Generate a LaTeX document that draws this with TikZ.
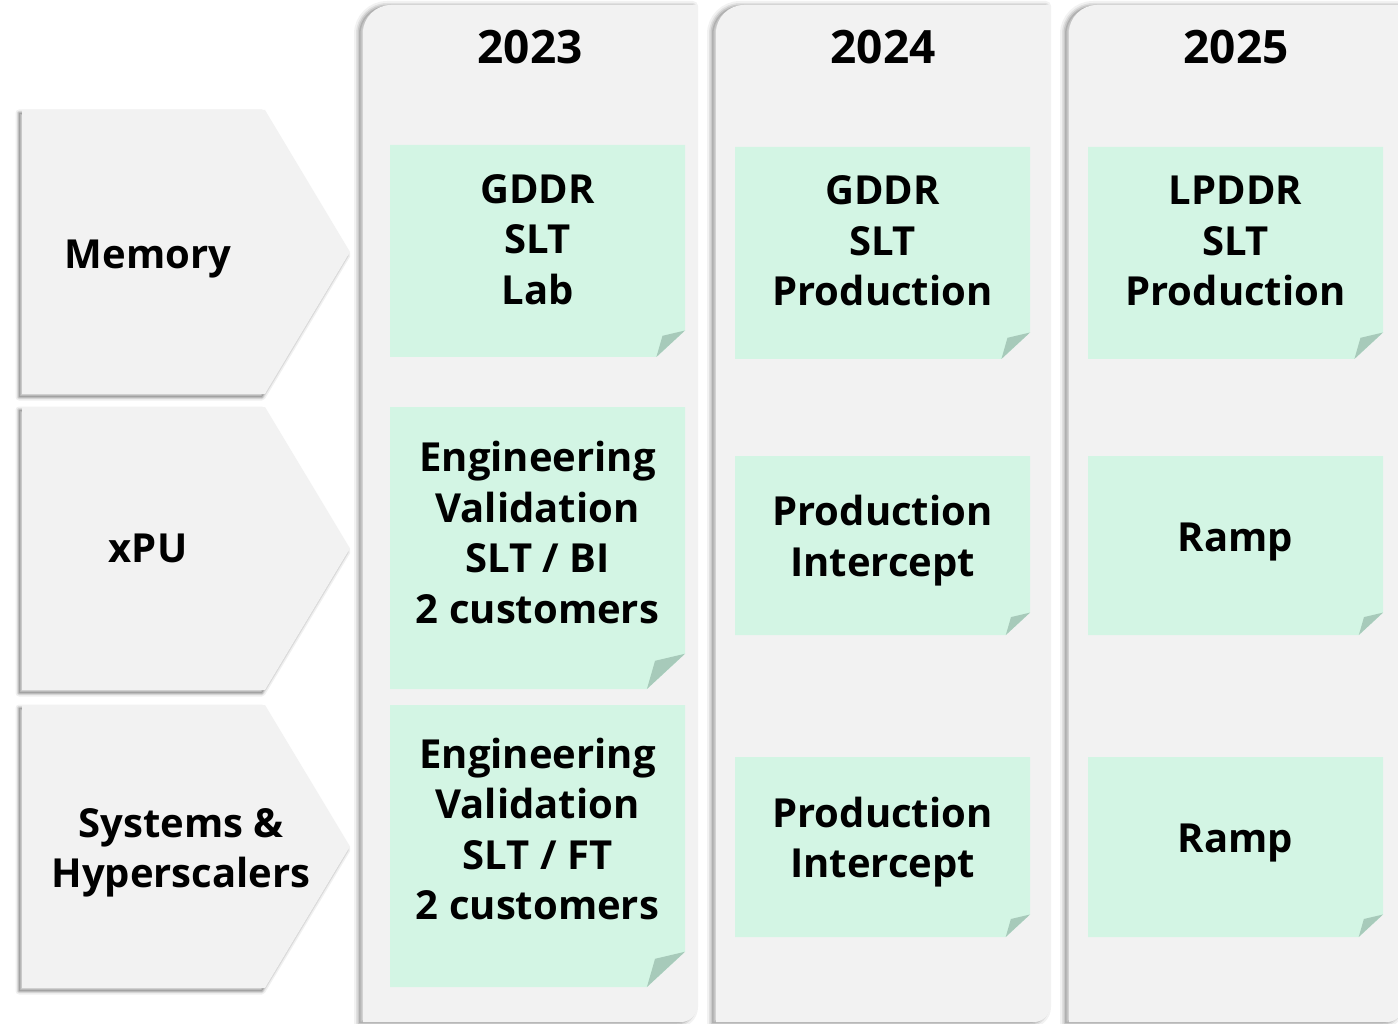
\documentclass[tikz,border=0pt]{standalone}
\usepackage{fontspec}
\setmainfont{Open Sans}
\definecolor{panel}{HTML}{F2F2F2}
\definecolor{notefill}{HTML}{D3F5E4}
\definecolor{foldfill}{HTML}{A7CABA}
\tikzset{
  year/.style={font=\fontsize{46}{50}\selectfont\bfseries, inner sep=0pt},
  notetext/.style={font=\fontsize{40}{50.5}\selectfont\bfseries, align=center, inner sep=0pt},
  rowlabel/.style={font=\fontsize{40}{50.5}\selectfont\bfseries, align=center, inner sep=0pt},
  softshadow/.style={black, line join=round},
}
\newcommand\colpath[2]{(#1,1022) -- (#1,33) arc[start angle=180,end angle=270,radius=28]
    -- (#2,5) -- (#2,1006) arc[start angle=0,end angle=90,radius=16] -- cycle}
\newcommand\chevpath[2]{(22,#1) -- (265,#1) -- (350,{(#1+#2)/2}) -- (265,#2) -- (22,#2) -- cycle}
% column: x1, x2
\newcommand\yearcol[2]{%
  \begin{scope}[shift={(-4,1)}]
    \draw[softshadow, line width=10pt, opacity=.05] \colpath{#1}{#2};
    \draw[softshadow, line width=6pt, opacity=.07] \colpath{#1}{#2};
    \draw[softshadow, line width=3pt, opacity=.1] \colpath{#1}{#2};
    \fill[black, opacity=.12] \colpath{#1}{#2};
  \end{scope}
  \fill[panel] \colpath{#1}{#2};}
% chevron: top y, bottom y
\newcommand\chev[2]{%
  \begin{scope}[shift={(-3,3)}]
    \draw[softshadow, line width=7pt, opacity=.06] \chevpath{#1}{#2};
    \draw[softshadow, line width=4pt, opacity=.09] \chevpath{#1}{#2};
    \draw[softshadow, line width=2pt, opacity=.12] \chevpath{#1}{#2};
    \fill[black, opacity=.15] \chevpath{#1}{#2};
  \end{scope}
  \fill[panel] \chevpath{#1}{#2};}
% note: x1,y1,x2,y2,name,dy,text
\newcommand\stickynote[7]{%
  \pgfmathsetmacro\fs{0.125*(#4-#2)}%
  \fill[notefill] (#1,#2) -- (#3,#2) -- (#3,{#4-\fs}) -- ({#3-1.08*\fs},#4) -- (#1,#4) -- cycle;
  \fill[foldfill] (#3,{#4-\fs}) -- ({#3-0.85*\fs},{#4-0.8*\fs}) -- ({#3-1.08*\fs},#4) -- cycle;
  \node[notetext] (#5) at ({(#1+#3)/2},{(#2+#4)/2-10+#6}) {#7};}
\begin{document}
\begin{tikzpicture}[x=1pt,y=-1pt]
\useasboundingbox (0,0) rectangle (1398,1024);
\fill[white] (0,0) rectangle (1398,1024);
% columns
\yearcol{363}{697}
\yearcol{716}{1050}
\yearcol{1069}{1403}
\node[year] (y23) at (530,47) {2023};
\node[year] (y24) at (883,47) {2024};
\node[year] (y25) at (1236,47) {2025};
% row chevrons
\chev{110}{394}
\chev{407}{690}
\chev{705}{988}
\node[rowlabel] (memory) at (148,259) {Memory};
\node[rowlabel] (xpu) at (148,548) {xPU};
\node[rowlabel] (systems) at (181,853) {Systems \&\\Hyperscalers};
% notes 2023
\stickynote{390}{145}{685}{357}{n11}{-1.5}{GDDR\\SLT\\Lab}
\stickynote{390}{407}{685}{689}{n12}{-5.5}{Engineering\\Validation\\SLT / BI\\2 customers}
\stickynote{390}{705}{685}{987}{n13}{-7}{Engineering\\Validation\\SLT / FT\\2 customers}
% notes 2024
\stickynote{735}{147}{1030}{359}{n21}{-2}{GDDR\\SLT\\Production}
\stickynote{735}{456}{1030}{635}{n22}{5}{Production\\Intercept}
\stickynote{735}{757}{1030}{937}{n23}{5}{Production\\Intercept}
% notes 2025
\stickynote{1088}{147}{1383}{359}{n31}{-2}{LPDDR\\SLT\\Production}
\stickynote{1088}{456}{1383}{635}{n32}{7}{Ramp}
\stickynote{1088}{757}{1383}{937}{n33}{6}{Ramp}
\end{tikzpicture}
\end{document}
